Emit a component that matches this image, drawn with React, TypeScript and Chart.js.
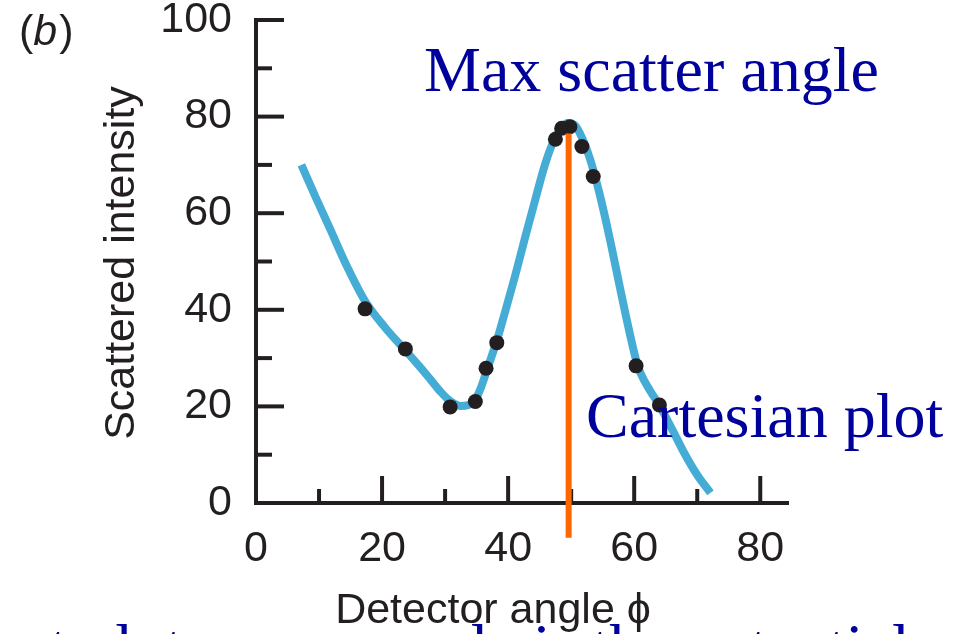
import React, { useEffect, useRef } from "react";
import { Chart, registerables } from "chart.js";

Chart.register(...registerables);

// Fitted curve
const curveX = [7.2, 9.5, 11.7, 14.5, 17.3, 20.5, 23.7, 25.8, 27.6, 29.3, 30.8, 32.4, 33.7, 34.8, 35.6, 36.5, 38.3, 39.5, 41.1, 42.7, 44.3, 45.9, 47.5, 48.6, 49.5, 50.5, 51.4, 53.0, 54.6, 56.2, 57.8, 59.4, 60.3, 61.0, 62.5, 64.1, 66.0, 68.0, 70.0, 72.1];
const curveY = [70, 63.2, 56.9, 48.8, 41.8, 36.3, 31.6, 28.5, 25.7, 23.0, 21.1, 20.1, 20.3, 21.5, 23.6, 27.0, 34.0, 39.5, 47.0, 55.0, 62.8, 70.3, 75.8, 78.0, 78.7, 78.3, 76.5, 71.2, 63.5, 54.3, 44.2, 34.5, 29.6, 26.9, 23.3, 20.0, 15.3, 10.2, 5.8, 2.1];

// Measured points
const pointX = [17.3, 23.7, 30.8, 34.8, 36.5, 38.2, 47.5, 48.5, 49.8, 51.7, 53.5, 60.3, 64.0];
const pointY = [40.2, 31.9, 19.9, 21.0, 27.9, 33.2, 75.3, 77.6, 77.9, 73.8, 67.6, 28.4, 20.3];

// Max scatter angle marker
const markerX = [49.6, 49.6];
const markerY = [76.5, -7.2];

// Axis ticks
const xTickValues = [0, 10, 20, 30, 40, 50, 60, 70, 80];
const yTickValues = [0, 10, 20, 30, 40, 50, 60, 70, 80, 90, 100];
const labelStep = 20;

const xTitle = "Detector angle \u03d5";
const yTitle = "Scattered intensity";
const panelLabel = "b";
const noteTop = "Max scatter angle";
const noteRight = "Cartesian plot";
const noteBottom = "at plot versus angle is the potential";

const AXIS = "#231f20";
const CURVE = "#45acd6";
const ORANGE = "#ff6600";
const BLUE = "#00009c";
const SANS = "'Liberation Sans', Arial, Helvetica, sans-serif";
const SERIF = "'Liberation Serif', 'Times New Roman', serif";

const inwardTicks = {
  id: "inwardTicks",
  beforeDatasetsDraw(chart: any) {
    const { ctx, scales } = chart;
    const x = scales.x;
    const y = scales.y;
    const y0 = y.getPixelForValue(0);
    const x0 = x.getPixelForValue(0);
    ctx.save();
    ctx.strokeStyle = AXIS;
    ctx.lineWidth = 4;
    for (const v of xTickValues) {
      if (v === 0) continue;
      const px = x.getPixelForValue(v);
      const len = v % labelStep === 0 ? 27 : 14;
      ctx.beginPath();
      ctx.moveTo(px, y0);
      ctx.lineTo(px, y0 - len);
      ctx.stroke();
    }
    for (const v of yTickValues) {
      if (v === 0) continue;
      const py = y.getPixelForValue(v);
      const len = v % labelStep === 0 ? 28 : 16;
      ctx.beginPath();
      ctx.moveTo(x0, py);
      ctx.lineTo(x0 + len, py);
      ctx.stroke();
    }
    ctx.restore();
  },
};

const textLayer = {
  id: "textLayer",
  afterDraw(chart: any) {
    const { ctx } = chart;
    ctx.save();
    // panel label (b)
    ctx.fillStyle = AXIS;
    ctx.textBaseline = "alphabetic";
    ctx.textAlign = "left";
    ctx.font = `43px ${SANS}`;
    let px = 19;
    ctx.fillText("(", px, 45);
    px += ctx.measureText("(").width;
    ctx.font = `italic 43px ${SANS}`;
    ctx.fillText(panelLabel, px, 45);
    px += ctx.measureText(panelLabel).width + 2;
    ctx.font = `43px ${SANS}`;
    ctx.fillText(")", px, 45);

    // axis titles
    ctx.font = `43px ${SANS}`;
    ctx.textAlign = "center";
    ctx.fillText(xTitle, 493, 623);
    ctx.save();
    ctx.translate(134, 263);
    ctx.rotate(-Math.PI / 2);
    ctx.fillText(yTitle, 0, 0);
    ctx.restore();

    // blue annotations
    ctx.fillStyle = BLUE;
    ctx.font = `64px ${SERIF}`;
    ctx.textAlign = "left";
    ctx.fillText(noteTop, 424, 91);
    ctx.fillText(noteRight, 586, 437);
    ctx.fillText(noteBottom, 21, 668);
    ctx.restore();
  },
};

export default function App() {
  const ref = useRef<HTMLCanvasElement | null>(null);

  useEffect(() => {
    if (!ref.current) return;
    const curve = curveX.map((x, i) => ({ x, y: curveY[i] }));
    const pts = pointX.map((x, i) => ({ x, y: pointY[i] }));
    const marker = markerX.map((x, i) => ({ x, y: markerY[i] }));
    const tickCb = (v: any) => (Number(v) % labelStep === 0 ? String(v) : "");

    const chart = new Chart(ref.current, {
      type: "scatter",
      data: {
        datasets: [
          {
            label: "Max scatter angle",
            data: marker,
            showLine: true,
            borderColor: ORANGE,
            borderWidth: 6,
            pointRadius: 0,
            clip: false as any,
            order: 0,
          } as any,
          {
            label: "Measured",
            data: pts,
            showLine: false,
            pointRadius: 7.5,
            pointBackgroundColor: AXIS,
            pointBorderWidth: 0,
            order: 1,
          },
          {
            label: "Fit",
            data: curve,
            showLine: true,
            borderColor: CURVE,
            borderWidth: 8,
            pointRadius: 0,
            cubicInterpolationMode: "monotone",
            order: 2,
          },
        ],
      },
      options: {
        animation: false,
        responsive: false,
        devicePixelRatio: 1,
        layout: { padding: { top: 20, right: 178, left: 0, bottom: 0 } },
        plugins: { legend: { display: false }, tooltip: { enabled: false } },
        scales: {
          x: {
            type: "linear",
            min: 0,
            max: 84.4,
            grid: { display: false, drawTicks: false },
            border: { display: true, color: AXIS, width: 4 },
            afterBuildTicks: (s: any) => {
              s.ticks = xTickValues.map((v) => ({ value: v }));
            },
            ticks: {
              autoSkip: false,
              maxRotation: 0,
              padding: 20,
              color: AXIS,
              font: { family: SANS, size: 43 },
              callback: tickCb,
            },
            afterFit: (s: any) => {
              s.height = 131;
              s.paddingLeft = 0;
              s.paddingRight = 0;
            },
          },
          y: {
            type: "linear",
            min: 0,
            max: 100,
            grid: { display: false, drawTicks: false },
            border: { display: true, color: AXIS, width: 4 },
            afterBuildTicks: (s: any) => {
              s.ticks = yTickValues.map((v) => ({ value: v }));
            },
            ticks: {
              autoSkip: false,
              padding: 24,
              color: AXIS,
              font: { family: SANS, size: 43 },
              callback: tickCb,
            },
            afterFit: (s: any) => {
              s.width = 256;
              s.paddingTop = 0;
              s.paddingBottom = 0;
            },
          },
        },
      },
      plugins: [inwardTicks, textLayer],
    });
    return () => chart.destroy();
  }, []);

  return (
    <div style={{ position: "absolute", left: 0, top: 0, width: 966, height: 634, background: "#fff" }}>
      <canvas ref={ref} width={966} height={634} style={{ width: 966, height: 634 }} />
    </div>
  );
}
